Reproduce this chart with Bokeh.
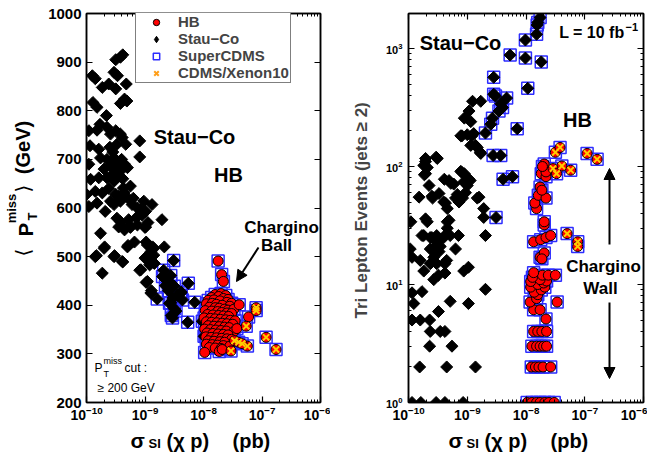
import numpy as np
from bokeh.plotting import figure
from bokeh.models import (LogAxis, LinearAxis, Label, Arrow, NormalHead,
                          Legend, LegendItem, FixedTicker, CustomJSTickFormatter)
from bokeh.layouts import row, column
from bokeh.embed import file_html
from bokeh.resources import INLINE

FONT = "Liberation Sans"

# ---------------- data: (log10 sigma_SI [pb], value) ----------------
# Left panel: <PT miss> (GeV)
left_stau_far = [
    (-9.42, 910), (-9.38, 915), (-9.50, 905), (-9.90, 872), (-9.85, 866), (-9.73, 848), (-9.62, 855),
    (-9.53, 879), (-9.47, 872), (-9.50, 845), (-9.32, 855), (-9.89, 817), (-9.82, 807), (-9.42, 815),
    (-9.35, 824), (-9.31, 820), (-9.66, 790), (-9.96, 759), (-9.82, 760), (-9.77, 772), (-9.65, 766),
    (-9.59, 752), (-9.50, 759), (-9.42, 752), (-9.39, 745), (-9.48, 731), (-9.33, 731), (-9.09, 738),
    (-9.94, 728), (-9.79, 721), (-9.76, 703), (-9.65, 700), (-9.53, 703), (-9.48, 697), (-9.59, 686),
    (-9.45, 690), (-9.50, 679), (-9.42, 676), (-9.30, 683), (-9.09, 705), (-9.96, 690), (-9.93, 659),
    (-9.79, 662), (-9.65, 662), (-9.53, 655), (-9.45, 666), (-9.37, 641), (-9.25, 645), (-10.0, 628),
    (-9.85, 634), (-9.73, 631), (-9.59, 614), (-9.53, 607), (-9.42, 614), (-9.36, 631), (-9.30, 621),
    (-9.96, 603), (-9.82, 610), (-9.22, 607), (-9.13, 600), (-9.02, 614), (-8.88, 607), (-9.50, 628),
    (-9.45, 624), (-9.68, 593), (-9.48, 579), (-9.42, 572), (-9.28, 576), (-9.08, 597), (-8.99, 593),
    (-8.71, 576), (-9.55, 715), (-9.60, 725), (-9.40, 700), (-9.35, 690), (-9.55, 670), (-9.70, 680),
    (-9.62, 640), (-9.38, 660), (-9.20, 620), (-9.15, 580), (-9.05, 585), (-9.00, 560), (-8.95, 570),
    (-9.25, 560), (-9.35, 555), (-9.76, 548), (-9.70, 517), (-9.85, 500), (-9.73, 466), (-9.53, 500),
    (-9.39, 490), (-9.30, 520), (-9.27, 565), (-9.45, 561), (-9.13, 565), (-8.99, 561), (-8.96, 524),
    (-8.90, 510), (-8.85, 517), (-9.07, 473), (-8.96, 449), (-8.90, 425), (-8.67, 520), (-9.00, 497),
    (-8.92, 483), (-8.85, 503), (-9.83, 502), (-9.69, 520), (-9.52, 502), (-9.38, 489), (-9.29, 523),
    (-9.18, 530), (-8.98, 530), (-8.87, 520), (-8.89, 492), (-8.84, 486), (-9.09, 472), (-8.98, 447),
    (-8.89, 430),
]
left_stau_scdms = [
    (-8.51, 492), (-8.56, 461), (-8.26, 445), (-8.38, 427), (-8.15, 406), (-8.79, 413), (-8.58, 404),
    (-8.50, 393), (-8.55, 379), (-8.27, 365), (-8.70, 459), (-8.62, 452), (-8.56, 445), (-8.50, 439),
    (-8.56, 405), (-8.47, 388), (-8.53, 374), (-8.39, 425), (-8.36, 411), (-8.68, 472), (-8.60, 430),
    (-8.45, 420), (-8.02, 367), (-7.99, 336), (-8.65, 440), (-8.52, 415),
]
left_hb = [
    (-7.80, 422), (-7.70, 424), (-7.62, 420),
    (-7.86, 416), (-7.74, 418), (-7.66, 414), (-7.58, 412),
    (-7.92, 410), (-7.82, 411), (-7.72, 409), (-7.60, 406), (-7.52, 404),
    (-7.95, 403), (-7.85, 404), (-7.78, 402), (-7.68, 400), (-7.55, 398),
    (-7.90, 396), (-7.80, 395), (-7.73, 394), (-7.64, 392), (-7.58, 390), (-7.48, 392),
    (-7.97, 389), (-7.86, 388), (-7.76, 387), (-7.69, 385), (-7.60, 384), (-7.52, 383),
    (-7.93, 381), (-7.84, 380), (-7.74, 379), (-7.66, 378), (-7.57, 377),
    (-7.99, 374), (-7.88, 373), (-7.80, 372), (-7.71, 371), (-7.62, 370), (-7.54, 369), (-7.46, 368),
    (-7.95, 366), (-7.86, 365), (-7.77, 364), (-7.68, 363), (-7.60, 362), (-7.50, 361),
    (-7.92, 358), (-7.82, 357), (-7.73, 356), (-7.64, 355), (-7.56, 354),
    (-7.98, 351), (-7.88, 350), (-7.79, 349), (-7.70, 348), (-7.61, 347), (-7.48, 346),
    (-7.94, 343), (-7.84, 342), (-7.75, 341), (-7.66, 340), (-7.58, 339),
    (-7.96, 335), (-7.87, 334), (-7.78, 333), (-7.69, 332), (-7.60, 331), (-7.52, 330),
    (-7.92, 327), (-7.82, 326), (-7.72, 325), (-7.64, 324),
    (-7.95, 320), (-7.85, 319), (-7.76, 318), (-7.66, 317), (-7.55, 316),
    (-7.90, 313), (-7.80, 312), (-7.70, 311),
    (-7.98, 303), (-7.73, 305), (-7.68, 309), (-7.75, 491), (-7.69, 463), (-7.66, 449),
    (-7.39, 401), (-7.23, 376), (-7.43, 352),
]
left_hb_xenon = [
    (-7.10, 395), (-7.10, 389), (-7.27, 357), (-6.93, 334), (-6.76, 309), (-7.25, 316),
    (-7.53, 306), (-7.47, 327), (-7.40, 324), (-7.34, 321),
]

# Right panel: tri-lepton events (jets >= 2), L = 10 fb^-1
right_stau_scdms = [
    (-7.76, 1830), (-7.80, 1660), (-7.81, 1580), (-7.82, 1320), (-8.01, 1180), (-8.27, 880),
    (-8.01, 830), (-7.74, 770), (-8.55, 570), (-7.97, 460), (-8.55, 410), (-8.52, 395), (-8.33, 380),
    (-8.43, 340), (-8.40, 316), (-8.46, 295), (-8.57, 257), (-8.60, 228), (-8.69, 192), (-8.15, 209),
    (-8.56, 124), (-8.43, 124), (-8.39, 78), (-8.23, 82), (-8.51, 37),
]
right_stau_far = [
    (-8.77, 357), (-8.91, 357), (-8.97, 295), (-9.05, 257), (-8.94, 240), (-9.11, 182), (-9.00, 186),
    (-8.89, 190), (-8.94, 151), (-8.83, 145), (-8.77, 129), (-9.51, 117), (-9.71, 110), (-9.68, 98),
    (-9.73, 85), (-9.82, 55), (-9.65, 69), (-9.59, 54), (-9.39, 78), (-9.28, 72), (-9.37, 49),
    (-9.34, 44), (-9.17, 58), (-9.08, 54), (-9.14, 50), (-9.00, 69), (-8.97, 78), (-9.05, 87),
    (-9.11, 91), (-8.83, 54), (-8.72, 44), (-8.72, 37), (-9.96, 34), (-9.68, 34), (-9.34, 34),
    (-9.74, 26), (-9.63, 25), (-9.52, 26), (-9.38, 26), (-9.29, 26), (-9.15, 26), (-8.69, 26),
    (-9.94, 17), (-9.80, 16), (-9.63, 20), (-9.55, 19), (-9.46, 21), (-9.57, 17), (-9.52, 15),
    (-9.20, 20), (-9.97, 20), (-9.63, 15), (-9.38, 15), (-9.06, 13), (-8.98, 14), (-9.74, 13),
    (-9.35, 16), (-9.57, 11), (-9.49, 12), (-9.38, 12.5), (-9.77, 8.7), (-9.94, 8.5), (-9.91, 6.9),
    (-8.69, 9.1), (-9.29, 7.2), (-8.98, 6.9), (-9.49, 5.9), (-9.94, 5), (-9.80, 5), (-9.64, 5),
    (-9.63, 4), (-9.46, 4), (-9.38, 4), (-9.64, 3), (-9.26, 3), (-9.81, 2), (-9.35, 2), (-8.86, 2),
    (-9.94, 1), (-9.79, 1), (-9.53, 1), (-9.38, 1), (-9.07, 1),
    (-9.71, 36), (-9.77, 26), (-9.60, 25), (-9.51, 23), (-9.54, 21), (-9.48, 19), (-9.40, 25),
    (-9.31, 35), (-9.34, 30), (-8.80, 55), (-9.48, 59), (-9.60, 56), (-9.71, 117), (-9.74, 102),
    (-9.53, 120), (-9.71, 87), (-9.09, 89), (-8.95, 76), (-9.06, 74), (-9.03, 60), (-9.31, 76),
    (-9.23, 71), (-9.40, 50), (-9.20, 54), (-9.09, 182), (-8.92, 182), (-8.86, 151), (-8.78, 132),
]
right_hb = [
    (-7.98, 1), (-7.90, 1), (-7.82, 1), (-7.76, 1), (-7.68, 1), (-7.61, 1), (-7.52, 1),
    (-7.91, 2), (-7.84, 2), (-7.78, 2), (-7.71, 2), (-7.58, 2),
    (-7.90, 3), (-7.82, 3), (-7.76, 3), (-7.70, 3), (-7.65, 3),
    (-7.87, 4), (-7.80, 4), (-7.73, 4), (-7.65, 4),
    (-7.66, 5.1), (-7.87, 6.1), (-7.76, 6.1), (-7.93, 7.1), (-7.47, 7.1),
    (-7.82, 7.6), (-7.80, 8.2), (-7.86, 8.6), (-7.74, 9.0), (-7.92, 9.5), (-7.68, 9.5),
    (-7.80, 10), (-7.70, 10.3), (-7.92, 10.6), (-7.65, 10.7), (-7.76, 11), (-7.89, 11.5),
    (-7.72, 12), (-7.62, 12), (-7.50, 12), (-7.87, 12.6),
    (-7.76, 17), (-7.69, 18.5), (-7.73, 16.5),
    (-7.87, 23), (-7.75, 24), (-7.66, 25), (-7.58, 26),
    (-7.69, 32), (-7.69, 34), (-7.82, 44), (-7.85, 49),
    (-7.79, 57), (-7.66, 54), (-7.76, 67), (-7.73, 63),
    (-7.74, 87), (-7.66, 82), (-7.66, 90), (-7.69, 105), (-7.72, 100),
]
right_hb_xenon = [
    (-7.50, 132), (-7.42, 145), (-6.96, 129), (-6.79, 115), (-7.39, 101), (-7.24, 93),
    (-7.54, 96), (-7.48, 87), (-7.30, 27), (-7.12, 23), (-7.12, 21),
]

x_ticks = [1e-10, 1e-9, 1e-8, 1e-7, 1e-6]
met_ticks = [200, 300, 400, 500, 600, 700, 800, 900, 1000]
evt_ticks = [1, 10, 100, 1000]

legend_names = ["HB", "Stau\u2212Co", "SuperCDMS", "CDMS/Xenon10"]

RED = "#ff0000"
BLUE = "#2d2dff"
YEL = "#ffcc00"
ORANGE = "#ff9f1a"

H_MAIN = 422       # height of the two plot canvases
FRAME_TOP = 13
FRAME_BOT = 402    # page y of the frames' bottom edge


def xy(pairs):
    a = np.array(pairs, dtype=float)
    return 10 ** a[:, 0], a[:, 1]


def minor_log(lo, hi):
    return [m * 10.0 ** e for e in range(lo, hi) for m in range(2, 10)]


def style_axis(ax, size=14, standoff=4, show_labels=True):
    ax.axis_line_width = 1.5
    ax.axis_line_color = "black"
    ax.major_tick_in = 6
    ax.major_tick_out = 0
    ax.minor_tick_in = 3
    ax.minor_tick_out = 0
    ax.major_tick_line_width = 1.2
    ax.major_label_text_font = FONT
    ax.major_label_text_font_style = "bold"
    ax.major_label_text_font_size = f"{size}px"
    ax.major_label_text_color = "black"
    ax.major_label_standoff = standoff
    if not show_labels:
        ax.formatter = CustomJSTickFormatter(code="return ''")
        ax.major_label_text_font_size = "2px"
        ax.major_label_standoff = 0


def make_fig(width, y_type, y_range, bl, br):
    p = figure(width=width, height=H_MAIN, x_axis_type="log", y_axis_type=y_type,
               x_range=(1e-10, 1e-6), y_range=y_range, output_backend="svg",
               toolbar_location=None, min_border_left=bl, min_border_right=br,
               min_border_top=FRAME_TOP, min_border_bottom=H_MAIN - FRAME_BOT)
    p.grid.visible = False
    p.outline_line_color = "black"
    p.outline_line_width = 1.5
    p.background_fill_color = "white"
    p.border_fill_color = "white"
    return p


def text_fig(width, height):
    f = figure(width=width, height=height, x_range=(0, width), y_range=(0, height),
               output_backend="svg", toolbar_location=None,
               x_axis_location=None, y_axis_location=None,
               min_border=0, min_border_left=0, min_border_right=0,
               min_border_top=0, min_border_bottom=0)
    f.grid.visible = False
    f.outline_line_color = None
    f.background_fill_color = "white"
    f.border_fill_color = "white"
    return f


def add_points(p, stau_far, stau_sc, hb, xe):
    sq = stau_sc + hb + xe
    sx, sy = xy(sq)
    p.scatter(sx, sy, marker="square", size=12, fill_color=None,
              line_color=BLUE, line_width=1.5)
    dx, dy = xy(stau_far + stau_sc)
    p.scatter(dx, dy, marker="square", angle=np.pi / 4, size=8.5,
              fill_color="black", line_color="black")
    cx, cy = xy(hb + xe)
    p.scatter(cx, cy, marker="circle", size=10, fill_color=RED,
              line_color="black", line_width=1)
    xx, xy_ = xy(xe)
    p.scatter(xx, xy_, marker="x", size=9, line_color=YEL, line_width=2)


def lab(p, ox, oy, px, py, text, size, bold=True, angle=0.0, align="center",
        baseline="middle", font=FONT):
    """Place a text at page pixel (px, py); (ox, oy) = page position of the frame's bottom-left."""
    p.add_layout(Label(x=px - ox, y=oy - py, x_units="screen", y_units="screen",
                       text=text, text_font=font, text_font_size=f"{size}px",
                       text_font_style="bold" if bold else "normal",
                       angle=angle, text_align=align, text_baseline=baseline,
                       text_color="black"))


def arrow(p, ox, oy, x0, y0, x1, y1):
    p.add_layout(Arrow(end=NormalHead(size=11, fill_color="black", line_color="black"),
                       x_start=x0 - ox, y_start=oy - y0, x_end=x1 - ox, y_end=oy - y1,
                       start_units="screen", end_units="screen",
                       line_width=2, line_color="black"))


# ---------------- left panel ----------------
YL_W = 40
FL1 = 86
p1 = make_fig(FL1 + 234 + 10 - YL_W, "linear", (200, 1000), FL1 - YL_W, 10)
for ax in p1.xaxis:
    ax.ticker = FixedTicker(ticks=x_ticks, minor_ticks=minor_log(-10, -6))
    style_axis(ax, 14, 3)
for ax in p1.yaxis:
    ax.ticker = FixedTicker(ticks=met_ticks)
    style_axis(ax, 15, 5)
    ax.minor_tick_line_color = None
top1 = LogAxis(ticker=FixedTicker(ticks=x_ticks, minor_ticks=minor_log(-10, -6)))
style_axis(top1, show_labels=False)
p1.add_layout(top1, "above")
right1 = LinearAxis(ticker=FixedTicker(ticks=met_ticks))
style_axis(right1, show_labels=False)
right1.minor_tick_line_color = None
p1.add_layout(right1, "right")

add_points(p1, left_stau_far, left_stau_scdms, left_hb, left_hb_xenon)

# legend-only renderers (placed outside the visible range)
lx = [1e-12]
ly = [500]
g_hb = p1.scatter(lx, ly, marker="circle", fill_color=RED, line_color="black", line_width=1)
g_st = p1.scatter(lx, ly, marker="diamond", fill_color="black", line_color="black")
g_sq = p1.scatter(lx, ly, marker="square", fill_color=None, line_color=BLUE, line_width=1.5)
g_xe = p1.scatter(lx, ly, marker="x", line_color=ORANGE, line_width=2)
legend = Legend(items=[LegendItem(label=legend_names[0], renderers=[g_hb]),
                       LegendItem(label=legend_names[1], renderers=[g_st]),
                       LegendItem(label=legend_names[2], renderers=[g_sq]),
                       LegendItem(label=legend_names[3], renderers=[g_xe])],
                location=(49, 319), label_text_font=FONT, label_text_font_size="15px",
                label_text_font_style="bold", padding=1, spacing=0, glyph_height=16,
                glyph_width=38, label_height=15, label_standoff=3, margin=0,
                border_line_color="black", border_line_width=1,
                background_fill_color="white", background_fill_alpha=1)
p1.add_layout(legend)

lab(p1, FL1, FRAME_BOT, 194, 136, "Stau\u2212Co", 20)
lab(p1, FL1, FRAME_BOT, 228, 174, "HB", 20)
lab(p1, FL1, FRAME_BOT, 281, 227, "Chargino", 17)
lab(p1, FL1, FRAME_BOT, 276, 245, "Ball", 17)
arrow(p1, FL1, FRAME_BOT, 258, 247, 236, 281)
lab(p1, FL1, FRAME_BOT, 94, 367, "P", 12, bold=False, align="left")
lab(p1, FL1, FRAME_BOT, 103, 360, "miss", 9, bold=False, align="left")
lab(p1, FL1, FRAME_BOT, 103, 373, "T", 9, bold=False, align="left")
lab(p1, FL1, FRAME_BOT, 124, 367, "cut :", 12, bold=False, align="left")
lab(p1, FL1, FRAME_BOT, 97, 387, "\u2265 200 GeV", 12, bold=False, align="left")

# y-axis title of the left panel (rotated pieces) in its own strip
yl = text_fig(YL_W, H_MAIN)
R = np.pi / 2
lab(yl, 0, H_MAIN, 22, 272, "\u27e8", 20, bold=False, angle=R, font="DejaVu Sans")
lab(yl, 0, H_MAIN, 25, 249, "P", 20, angle=R)
lab(yl, 0, H_MAIN, 32, 236, "T", 13, angle=R)
lab(yl, 0, H_MAIN, 11, 228, "miss", 13, angle=R)
lab(yl, 0, H_MAIN, 22, 208, "\u27e9", 20, bold=False, angle=R, font="DejaVu Sans")
lab(yl, 0, H_MAIN, 22, 167, "(GeV)", 20, angle=R)

# ---------------- right panel ----------------
FL2 = 408
p2 = make_fig(317, "log", (1, 1980), 78, 4)
for ax in p2.xaxis:
    ax.ticker = FixedTicker(ticks=x_ticks, minor_ticks=minor_log(-10, -6))
    style_axis(ax, 14, 3)
for ax in p2.yaxis:
    ax.ticker = FixedTicker(ticks=evt_ticks, minor_ticks=minor_log(0, 4))
    style_axis(ax, 11, 6)
    ax.axis_label = "Tri Lepton Events  (jets \u2265 2)"
    ax.axis_label_text_font = FONT
    ax.axis_label_text_font_size = "17px"
    ax.axis_label_text_font_style = "bold"
    ax.axis_label_standoff = 12
top2 = LogAxis(ticker=FixedTicker(ticks=x_ticks, minor_ticks=minor_log(-10, -6)))
style_axis(top2, show_labels=False)
p2.add_layout(top2, "above")
right2 = LogAxis(ticker=FixedTicker(ticks=evt_ticks, minor_ticks=minor_log(0, 4)))
style_axis(right2, show_labels=False)
p2.add_layout(right2, "right")

add_points(p2, right_stau_far, right_stau_scdms, right_hb, right_hb_xenon)

lab(p2, FL2, FRAME_BOT, 460, 42, "Stau\u2212Co", 20)
lab(p2, FL2, FRAME_BOT, 624, 32, "L = 10 fb", 16, align="right")
lab(p2, FL2, FRAME_BOT, 625, 26, "\u22121", 11, align="left")
lab(p2, FL2, FRAME_BOT, 577, 119, "HB", 20)
lab(p2, FL2, FRAME_BOT, 603, 266, "Chargino", 17)
lab(p2, FL2, FRAME_BOT, 600, 288, "Wall", 17)
arrow(p2, FL2, FRAME_BOT, 609, 244, 609, 168)
arrow(p2, FL2, FRAME_BOT, 609, 302, 609, 378)

# ---------------- x-axis titles strip ----------------
XL_H = 30
XL_BOT = H_MAIN + XL_H
xl = text_fig(647, XL_H)
for x0 in (130, 448):
    lab(xl, 0, XL_BOT, x0, 440, "\u03c3", 21, align="left", baseline="alphabetic")
    lab(xl, 0, XL_BOT, x0 + 18, 443, "SI", 13, align="left", baseline="middle")
    lab(xl, 0, XL_BOT, x0 + 36, 440, "(\u03c7 p)", 20, align="left", baseline="alphabetic")
    lab(xl, 0, XL_BOT, x0 + 102, 440, "(pb)", 20, align="left", baseline="alphabetic")

layout = column(row(yl, p1, p2), xl)
open("out.html", "w").write(file_html(layout, INLINE))
